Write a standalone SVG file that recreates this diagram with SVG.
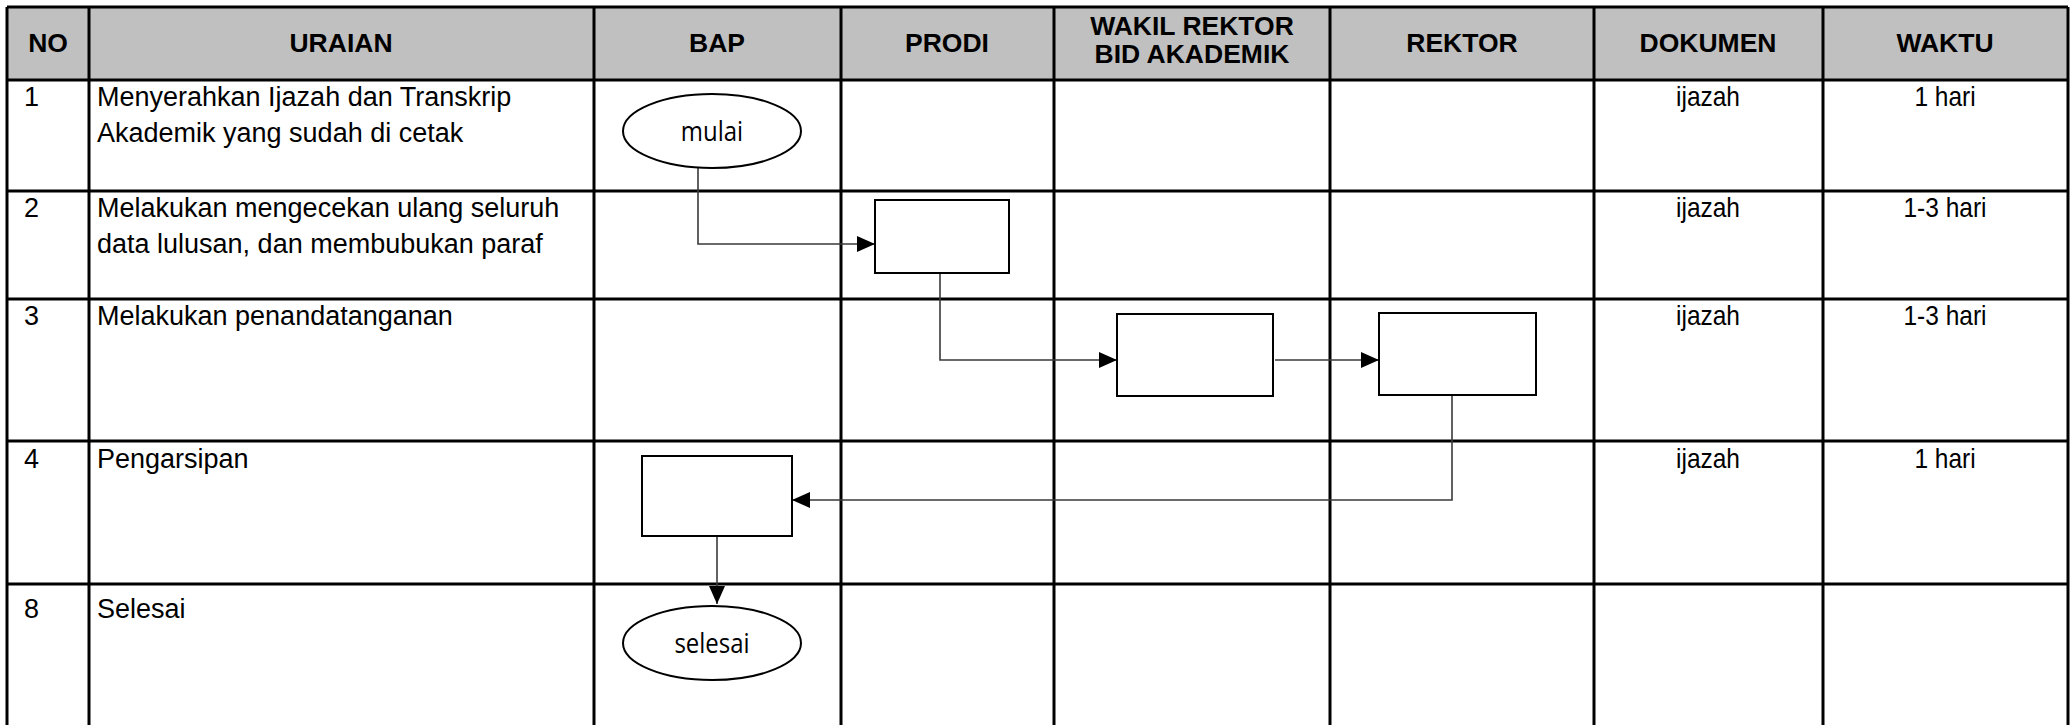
<svg xmlns="http://www.w3.org/2000/svg" width="2072" height="725" viewBox="0 0 2072 725">
<style>
.grid{stroke:#000;stroke-width:3;fill:none}
.hd{font-family:"Liberation Sans",Arial,sans-serif;font-weight:bold;font-size:26.5px;fill:#000;text-anchor:middle}
.tx{font-family:"Liberation Sans",Arial,sans-serif;font-size:27px;fill:#000}
.tc{font-family:"Liberation Sans",Arial,sans-serif;font-size:24.5px;fill:#000;text-anchor:middle}
.shape{fill:#fff;stroke:#000;stroke-width:2}
.lbl{font-family:"Open Sans",sans-serif;font-size:24px;fill:#000;text-anchor:middle}
.conn{fill:none;stroke:#3a3a3a;stroke-width:1.6}
</style>
<defs>
<marker id="arr" markerUnits="userSpaceOnUse" markerWidth="18" markerHeight="16" refX="18" refY="8" orient="auto">
<path d="M0,0 L18,8 L0,16 z" fill="#000"/>
</marker>
</defs>
<rect x="0" y="0" width="2072" height="725" fill="#fff"/>
<g id="table">
<rect x="7" y="7" width="2061" height="73" fill="#c0c0c0"/>
<g class="grid">
<line x1="7" y1="7" x2="2068" y2="7"/>
<line x1="7" y1="80" x2="2068" y2="80"/>
<line x1="7" y1="191" x2="2068" y2="191"/>
<line x1="7" y1="299" x2="2068" y2="299"/>
<line x1="7" y1="441" x2="2068" y2="441"/>
<line x1="7" y1="584" x2="2068" y2="584"/>
<line x1="7" y1="7" x2="7" y2="725"/>
<line x1="89" y1="7" x2="89" y2="725"/>
<line x1="594" y1="7" x2="594" y2="725"/>
<line x1="841" y1="7" x2="841" y2="725"/>
<line x1="1054" y1="7" x2="1054" y2="725"/>
<line x1="1330" y1="7" x2="1330" y2="725"/>
<line x1="1594" y1="7" x2="1594" y2="725"/>
<line x1="1823" y1="7" x2="1823" y2="725"/>
<line x1="2068" y1="7" x2="2068" y2="725"/>
</g>
<text class="hd" x="48" y="52">NO</text>
<text class="hd" x="341" y="52">URAIAN</text>
<text class="hd" x="717" y="52">BAP</text>
<text class="hd" x="947" y="52">PRODI</text>
<text class="hd" x="1192" y="35">WAKIL REKTOR</text>
<text class="hd" x="1192" y="63">BID AKADEMIK</text>
<text class="hd" x="1462" y="52">REKTOR</text>
<text class="hd" x="1708" y="52">DOKUMEN</text>
<text class="hd" x="1945" y="52">WAKTU</text>
<text class="tx" x="24" y="106">1</text>
<text class="tx" x="97" y="106">Menyerahkan Ijazah dan Transkrip</text>
<text class="tx" x="97" y="142">Akademik yang sudah di cetak</text>
<text class="tx" x="24" y="217">2</text>
<text class="tx" x="97" y="217">Melakukan mengecekan ulang seluruh</text>
<text class="tx" x="97" y="253">data lulusan, dan membubukan paraf</text>
<text class="tx" x="24" y="325">3</text>
<text class="tx" x="97" y="325">Melakukan penandatanganan</text>
<text class="tx" x="24" y="468">4</text>
<text class="tx" x="97" y="468">Pengarsipan</text>
<text class="tx" x="24" y="618">8</text>
<text class="tx" x="97" y="618">Selesai</text>
<text class="tc" transform="translate(1708,106) scale(1,1.15)">ijazah</text>
<text class="tc" transform="translate(1945,106) scale(1,1.15)">1 hari</text>
<text class="tc" transform="translate(1708,217) scale(1,1.15)">ijazah</text>
<text class="tc" transform="translate(1945,217) scale(1,1.15)">1-3 hari</text>
<text class="tc" transform="translate(1708,325) scale(1,1.15)">ijazah</text>
<text class="tc" transform="translate(1945,325) scale(1,1.15)">1-3 hari</text>
<text class="tc" transform="translate(1708,468) scale(1,1.15)">ijazah</text>
<text class="tc" transform="translate(1945,468) scale(1,1.15)">1 hari</text>
</g>
<g id="connectors">
<polyline class="conn" points="698,167 698,244 875,244" marker-end="url(#arr)"/>
<polyline class="conn" points="940,273 940,360 1117,360" marker-end="url(#arr)"/>
<polyline class="conn" points="1275,360 1379,360" marker-end="url(#arr)"/>
<polyline class="conn" points="1452,395 1452,500 792,500" marker-end="url(#arr)"/>
<polyline class="conn" points="717,536 717,604" marker-end="url(#arr)"/>
</g>
<g id="node-mulai">
<ellipse class="shape" cx="712" cy="131" rx="89" ry="37"/>
<text class="lbl" transform="translate(712,141) scale(1,1.12)">mulai</text>
</g>
<g id="node-cek-prodi">
<rect class="shape" x="875" y="200" width="134" height="73"/>
</g>
<g id="node-ttd-warek">
<rect class="shape" x="1117" y="314" width="156" height="82"/>
</g>
<g id="node-ttd-rektor">
<rect class="shape" x="1379" y="313" width="157" height="82"/>
</g>
<g id="node-arsip">
<rect class="shape" x="642" y="456" width="150" height="80"/>
</g>
<g id="node-selesai">
<ellipse class="shape" cx="712" cy="643" rx="89" ry="37"/>
<text class="lbl" transform="translate(712,653) scale(1,1.12)">selesai</text>
</g>
</svg>
